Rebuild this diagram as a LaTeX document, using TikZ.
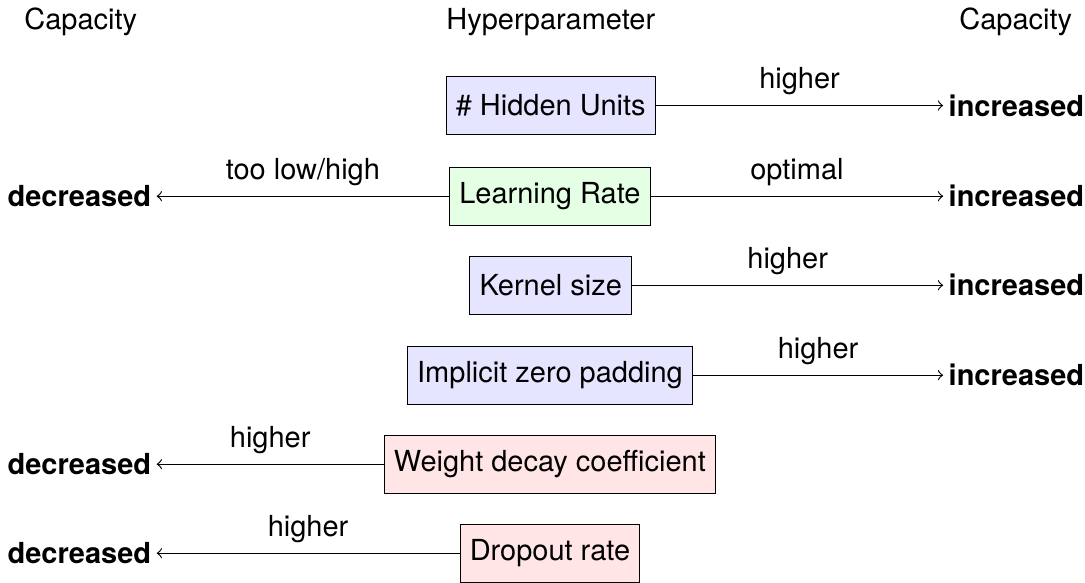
\documentclass[tikz,border=0pt]{standalone}
\usepackage{fontspec}
\setmainfont{TeX Gyre Heros}
\usetikzlibrary{positioning}

\begin{document}
\begin{tikzpicture}
    [hyper/.style={draw, minimum height=20pt, inner sep=3.33pt},
    more/.style={hyper, fill=blue!10},
    tune/.style={hyper, fill=green!10},
    less/.style={hyper, fill=red!10},
    incr/.style={font=\bfseries, anchor=west, inner xsep=1.7pt},
    decr/.style={font=\bfseries, anchor=east, inner xsep=1.7pt}]
    \useasboundingbox (0,0) rectangle (13.16,7.06);
    % headers
    \node (capL) at (0.98, 6.79) {Capacity};
    \node (hyp) at (6.68, 6.79) {Hyperparameter};
    \node (capR) at (12.32, 6.79) {Capacity};
    % hyperparameters
    \node[more] (hu) at (6.68, 5.78) {\# Hidden Units};
    \node[tune] (lr) at (6.67, 4.68) {Learning Rate};
    \node[more] (ks) at (6.68, 3.60) {Kernel size};
    \node[more] (zp) at (6.67, 2.51) {Implicit zero padding};
    \node[less] (wd) at (6.67, 1.43) {Weight decay coefficient};
    \node[less] (dr) at (6.67, 0.35) {Dropout rate};
    % capacity effects
    \node[incr] (inc1) at (11.44, 5.78) {increased};
    \node[incr] (inc2) at (11.44, 4.68) {increased};
    \node[decr] (dec2) at (1.90, 4.68) {decreased};
    \node[incr] (inc3) at (11.44, 3.60) {increased};
    \node[incr] (inc4) at (11.44, 2.51) {increased};
    \node[decr] (dec5) at (1.90, 1.43) {decreased};
    \node[decr] (dec6) at (1.90, 0.35) {decreased};
    \draw[->] (hu) -- node[above] {higher} (inc1);
    \draw[->] (lr) -- node[above] {optimal} (inc2);
    \draw[->] (lr) -- node[above] {too low/high} (dec2);
    \draw[->] (ks) -- node[above] {higher} (inc3);
    \draw[->] (zp) -- node[above] {higher} (inc4);
    \draw[->] (wd) -- node[above] {higher} (dec5);
    \draw[->] (dr) -- node[above] {higher} (dec6);
\end{tikzpicture}
\end{document}
